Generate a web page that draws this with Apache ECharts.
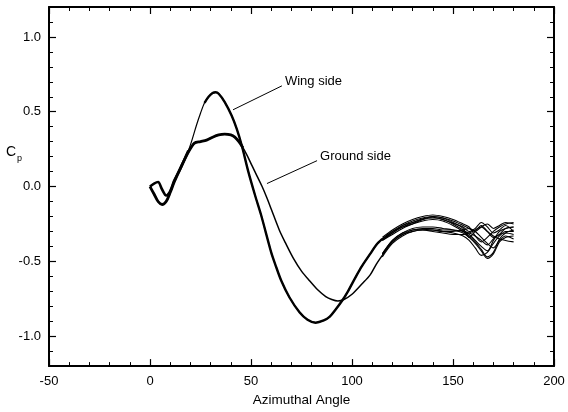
<!DOCTYPE html>
<html>
<head>
<meta charset="utf-8">
<script src="https://cdn.jsdelivr.net/npm/echarts@6/dist/echarts.min.js"></script>
<style>
  html, body { margin: 0; padding: 0; background: #fff; }
  #chart { width: 568px; height: 412px; }
</style>
</head>
<body>
<div id="chart"></div>
<script>
// Pressure coefficient Cp versus azimuthal angle (degrees)

// Wing side, first part of the sweep
const wingAngles = [0, 2, 4, 6, 8, 10, 12, 15, 19, 21, 23, 25, 27, 29, 31, 32.5, 34, 37, 40.4, 42.9, 45.4, 48.7, 52, 55, 60, 62, 65, 69, 74, 78, 82, 86, 89, 92, 95, 98, 102, 105, 109, 112, 115];
const wingCp = [0.0, 0.02, 0.03, -0.02, -0.06, -0.03, 0.04, 0.12, 0.24, 0.32, 0.41, 0.49, 0.56, 0.60, 0.625, 0.63, 0.62, 0.565, 0.475, 0.387, 0.276, 0.098, -0.058, -0.19, -0.44, -0.52, -0.63, -0.74, -0.84, -0.89, -0.91, -0.895, -0.87, -0.82, -0.765, -0.70, -0.60, -0.53, -0.45, -0.39, -0.35];

// Ground side, first part of the sweep
const groundAngles = [0, 2, 4, 6, 8, 10, 12, 15, 19, 22, 25, 28, 31, 34, 37, 40, 42, 44, 46, 48, 50.5, 53, 55.5, 58, 60, 64, 67, 71, 75, 79, 83, 87, 90, 93, 96, 100, 105, 109, 112, 115];
const groundCp = [0.0, -0.05, -0.10, -0.12, -0.10, -0.04, 0.03, 0.12, 0.23, 0.29, 0.30, 0.31, 0.33, 0.345, 0.35, 0.345, 0.33, 0.30, 0.26, 0.21, 0.14, 0.07, 0.0, -0.08, -0.15, -0.29, -0.375, -0.48, -0.565, -0.63, -0.69, -0.735, -0.755, -0.765, -0.755, -0.72, -0.65, -0.59, -0.52, -0.46];

// Remaining part of the sweep, one array per revolution
const tailAngles = [115, 120, 125, 130, 135, 140, 145, 150, 155, 158, 161, 164, 167, 170, 173, 176, 180];
const wingTail1 = [-0.35, -0.30, -0.26, -0.23, -0.21, -0.20, -0.21, -0.23, -0.26, -0.28, -0.30, -0.27, -0.25, -0.28, -0.26, -0.24, -0.25];
const wingTail2 = [-0.34, -0.29, -0.25, -0.22, -0.20, -0.19, -0.20, -0.22, -0.25, -0.27, -0.33, -0.37, -0.34, -0.30, -0.27, -0.25, -0.24];
const wingTail3 = [-0.36, -0.31, -0.27, -0.24, -0.22, -0.21, -0.22, -0.25, -0.29, -0.32, -0.36, -0.40, -0.43, -0.36, -0.30, -0.28, -0.27];
const wingTail4 = [-0.35, -0.30, -0.27, -0.25, -0.23, -0.22, -0.23, -0.26, -0.30, -0.33, -0.37, -0.42, -0.47, -0.44, -0.35, -0.31, -0.29];
const wingTail5 = [-0.36, -0.32, -0.28, -0.25, -0.22, -0.20, -0.21, -0.24, -0.28, -0.34, -0.30, -0.26, -0.30, -0.34, -0.32, -0.28, -0.27];
const wingTail6 = [-0.35, -0.31, -0.26, -0.24, -0.215, -0.205, -0.22, -0.245, -0.27, -0.30, -0.28, -0.24, -0.27, -0.31, -0.29, -0.26, -0.30];
const groundTail1 = [-0.46, -0.37, -0.32, -0.29, -0.28, -0.28, -0.29, -0.29, -0.30, -0.31, -0.33, -0.36, -0.39, -0.35, -0.32, -0.31, -0.32];
const groundTail2 = [-0.45, -0.36, -0.31, -0.28, -0.27, -0.27, -0.28, -0.29, -0.31, -0.34, -0.38, -0.43, -0.48, -0.45, -0.37, -0.34, -0.33];
const groundTail3 = [-0.47, -0.38, -0.33, -0.30, -0.29, -0.29, -0.30, -0.31, -0.33, -0.36, -0.41, -0.46, -0.44, -0.38, -0.33, -0.30, -0.30];
const groundTail4 = [-0.46, -0.37, -0.32, -0.30, -0.29, -0.30, -0.31, -0.32, -0.32, -0.31, -0.29, -0.27, -0.30, -0.33, -0.35, -0.36, -0.37];
const groundTail5 = [-0.45, -0.36, -0.31, -0.29, -0.285, -0.29, -0.30, -0.30, -0.29, -0.28, -0.30, -0.34, -0.38, -0.41, -0.36, -0.33, -0.35];

// Axis ticks
const yTicks = [-1.0, -0.5, 0.0, 0.5, 1.0];

// Curve labels: [text, leader start (angle, Cp), leader end (angle, Cp)]
const wingLabel = ['Wing side', [41.1, 0.513], [65.3, 0.673]];
const groundLabel = ['Ground side', [57.9, 0.02], [82.7, 0.173]];

const FONT = '"Liberation Sans", Arial, Helvetica, sans-serif';

function pairs(xs, ys) { return xs.map((x, i) => [x, ys[i]]); }

const chart = echarts.init(document.getElementById('chart'), null, { renderer: 'canvas' });

const lineSeries = (data, width) => ({
  type: 'line', data, showSymbol: false, symbol: 'none', smooth: 0.3,
  xAxisIndex: 0, yAxisIndex: 0, animation: false, silent: true,
  lineStyle: { color: '#000', width }
});

const tails = [wingTail1, wingTail2, wingTail3, wingTail4, wingTail5, wingTail6,
               groundTail1, groundTail2, groundTail3, groundTail4, groundTail5];

const wingPts = pairs(wingAngles, wingCp);
const groundPts = pairs(groundAngles, groundCp);

const series = [
  // thin base line for each side
  lineSeries(wingPts, 1.2),
  lineSeries(groundPts, 1.5),
  // heavier where the revolutions overlap with some spread
  lineSeries(wingPts.filter(p => p[0] <= 19), 2.6),
  lineSeries(wingPts.filter(p => p[0] >= 27), 2.4),
  lineSeries(groundPts.filter(p => p[0] <= 46), 2.8)
].concat(tails.map(t => lineSeries(pairs(tailAngles, t), 1.1)));

const baseX = {
  type: 'value', min: -50, max: 200, interval: 50,
  splitLine: { show: false },
  axisLine: { show: true, onZero: false, lineStyle: { color: '#000', width: 2 } },
  axisTick: { show: true, inside: true, length: 7, lineStyle: { color: '#000', width: 1.2 } },
  minorTick: { show: true, splitNumber: 5, length: 4, lineStyle: { color: '#000', width: 1 } },
  minorSplitLine: { show: false }
};

const majorY = (position, labels) => ({
  type: 'value', min: -1.2, max: 1.2, position,
  splitLine: { show: false },
  axisLine: { show: true, onZero: false, lineStyle: { color: '#000', width: 2 } },
  axisTick: { show: true, inside: true, length: 7, customValues: yTicks,
              lineStyle: { color: '#000', width: 1.2 } },
  axisLabel: labels
    ? { show: true, color: '#000', fontFamily: FONT, fontSize: 13, margin: 8,
        customValues: yTicks, formatter: v => v.toFixed(1) }
    : { show: false }
});

const minorY = position => ({
  type: 'value', min: -1.2, max: 1.2, interval: 0.1, position,
  splitLine: { show: false },
  axisLine: { show: false, onZero: false },
  axisTick: { show: true, inside: true, length: 4, lineStyle: { color: '#000', width: 1 } },
  axisLabel: { show: false }
});

const option = {
  animation: false,
  backgroundColor: '#fff',
  grid: { left: 49, right: 14, top: 7, bottom: 43, containLabel: false },
  xAxis: [
    Object.assign({}, baseX, {
      position: 'bottom',
      name: 'Azimuthal Angle', nameLocation: 'middle', nameGap: 25,
      nameTextStyle: { color: '#000', fontFamily: FONT, fontSize: 13.5 },
      axisLabel: { show: true, color: '#000', fontFamily: FONT, fontSize: 13, margin: 9 }
    }),
    Object.assign({}, baseX, { position: 'top', axisLabel: { show: false } })
  ],
  yAxis: [majorY('left', true), minorY('left'), majorY('right', false), minorY('right')],
  series
};

chart.setOption(option);

// Curve labels with leader lines, placed through the axis scales
function toPx(p) { return chart.convertToPixel({ xAxisIndex: 0, yAxisIndex: 0 }, p); }
const graphics = [];
[wingLabel, groundLabel].forEach(([text, a, b]) => {
  const pa = toPx(a), pb = toPx(b);
  graphics.push({
    type: 'line', silent: true,
    shape: { x1: pa[0], y1: pa[1], x2: pb[0], y2: pb[1] },
    style: { stroke: '#000', lineWidth: 1 }
  });
  graphics.push({
    type: 'text', silent: true, x: pb[0] + 3, y: pb[1] - 4,
    style: { text, fill: '#000', font: '13px ' + FONT, textVerticalAlign: 'middle' }
  });
});
// Cp axis title with subscript
graphics.push({ type: 'text', silent: true, x: 6, y: 145,
  style: { text: 'C', fill: '#000', font: '14px ' + FONT } });
graphics.push({ type: 'text', silent: true, x: 17, y: 154,
  style: { text: 'p', fill: '#000', font: '9px ' + FONT } });
chart.setOption({ graphic: graphics });
</script>
</body>
</html>
